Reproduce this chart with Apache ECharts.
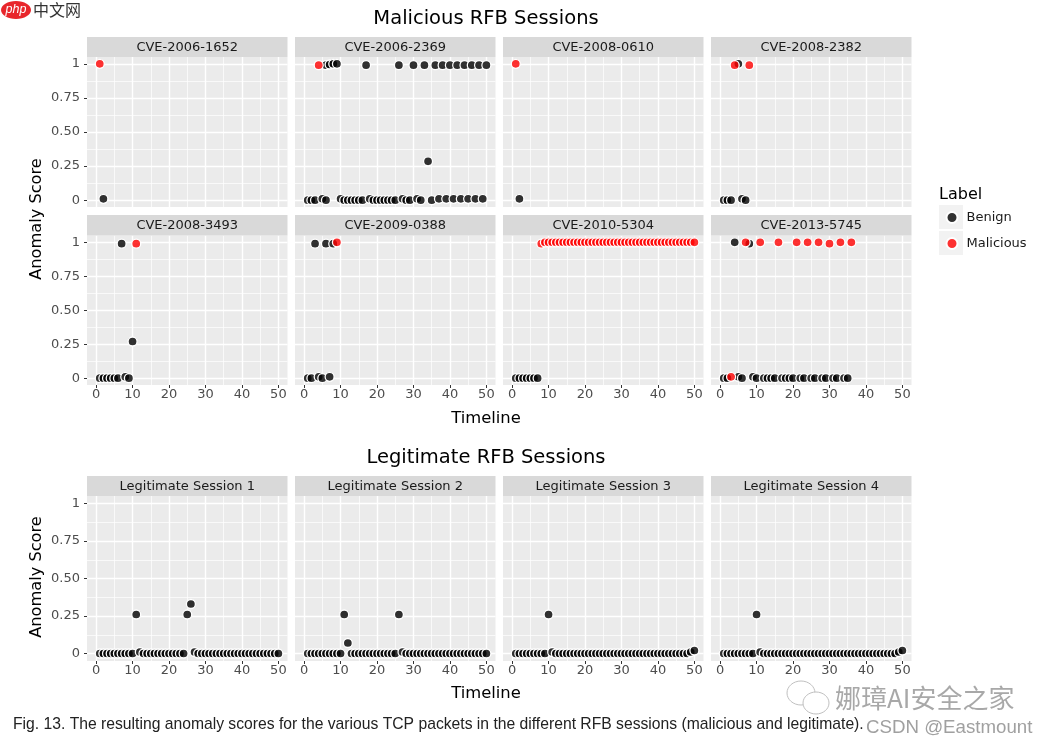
<!DOCTYPE html>
<html><head><meta charset="utf-8">
<style>html,body{margin:0;padding:0;background:#fff}#c{width:1047px;height:745px}</style>
<script src="https://cdn.jsdelivr.net/npm/echarts@6/dist/echarts.min.js"></script>
</head><body><div id="c"></div>
<script>
const panelNames = ['CVE-2006-1652','CVE-2006-2369','CVE-2008-0610','CVE-2008-2382',
  'CVE-2008-3493','CVE-2009-0388','CVE-2010-5304','CVE-2013-5745',
  'Legitimate Session 1','Legitimate Session 2','Legitimate Session 3','Legitimate Session 4'];
const xTicks = [0,10,20,30,40,50];
const xMinor = [5,15,25,35,45];
const yTicks = [0,0.25,0.5,0.75,1];
const yMinor = [0.125,0.375,0.625,0.875];
const yTickLabels = {0:'0',0.25:'0.25',0.5:'0.50',0.75:'0.75',1:'1'};

const benign = [
 [[2,.01]],
 [[1,0],[2,0],[3,0],[5,.01],[6,0],[6,.99],[7,.995],[8,1],[9,1],[10,.01],[11,0],[12,0],[13,0],[14,0],[15,0],[16,0],[17,.99],[18,.01],[19,0],[20,0],[21,0],[22,0],[23,0],[24,0],[25,0],[26,.99],[27,.01],[28,0],[29,0],[30,.99],[31,.01],[32,0],[33,.99],[34,.285],[35,0],[36,.99],[37,.01],[38,.99],[39,.01],[40,.99],[41,.01],[42,.99],[43,.01],[44,.99],[45,.01],[46,.99],[47,.01],[48,.99],[49,.01],[50,.99]],
 [[2,.01]],
 [[1,0],[2,0],[3,0],[5,1],[6,.01],[7,0]],
 [[1,0],[2,0],[3,0],[4,0],[5,0],[6,0],[7,.99],[8,.01],[9,0],[10,.27]],
 [[1,0],[2,0],[3,.99],[4,.01],[5,0],[6,.99],[7,.01],[8,.99]],
 [[1,0],[2,0],[3,0],[4,0],[5,0],[6,0],[7,0]],
 [[1,0],[2,0],[4,1],[5,.01],[6,0],[8,.99],[9,.01],[10,0],[12,0],[13,0],[14,0],[15,0],[17,0],[18,0],[19,0],[20,0],[22,0],[23,0],[25,0],[26,0],[28,0],[29,0],[31,0],[32,0],[34,0],[35,0]],
 [[1,0],[2,0],[3,0],[4,0],[5,0],[6,0],[7,0],[8,0],[9,0],[10,0],[11,.26],[12,.01],[13,0],[14,0],[15,0],[16,0],[17,0],[18,0],[19,0],[20,0],[21,0],[22,0],[23,0],[24,0],[25,.26],[26,.33],[27,.01],[28,0],[29,0],[30,0],[31,0],[32,0],[33,0],[34,0],[35,0],[36,0],[37,0],[38,0],[39,0],[40,0],[41,0],[42,0],[43,0],[44,0],[45,0],[46,0],[47,0],[48,0],[49,0],[50,0]],
 [[1,0],[2,0],[3,0],[4,0],[5,0],[6,0],[7,0],[8,0],[9,0],[10,0],[11,.26],[12,.07],[13,0],[14,0],[15,0],[16,0],[17,0],[18,0],[19,0],[20,0],[21,0],[22,0],[23,0],[24,0],[25,0],[26,.26],[27,.01],[28,0],[29,0],[30,0],[31,0],[32,0],[33,0],[34,0],[35,0],[36,0],[37,0],[38,0],[39,0],[40,0],[41,0],[42,0],[43,0],[44,0],[45,0],[46,0],[47,0],[48,0],[49,0],[50,0]],
 [[1,0],[2,0],[3,0],[4,0],[5,0],[6,0],[7,0],[8,0],[9,0],[10,.26],[11,.01],[12,0],[13,0],[14,0],[15,0],[16,0],[17,0],[18,0],[19,0],[20,0],[21,0],[22,0],[23,0],[24,0],[25,0],[26,0],[27,0],[28,0],[29,0],[30,0],[31,0],[32,0],[33,0],[34,0],[35,0],[36,0],[37,0],[38,0],[39,0],[40,0],[41,0],[42,0],[43,0],[44,0],[45,0],[46,0],[47,0],[48,0],[49,.01],[50,.02]],
 [[1,0],[2,0],[3,0],[4,0],[5,0],[6,0],[7,0],[8,0],[9,0],[10,.26],[11,.01],[12,0],[13,0],[14,0],[15,0],[16,0],[17,0],[18,0],[19,0],[20,0],[21,0],[22,0],[23,0],[24,0],[25,0],[26,0],[27,0],[28,0],[29,0],[30,0],[31,0],[32,0],[33,0],[34,0],[35,0],[36,0],[37,0],[38,0],[39,0],[40,0],[41,0],[42,0],[43,0],[44,0],[45,0],[46,0],[47,0],[48,0],[49,.01],[50,.02]]
];
const malicious = [
 [[1,1]],
 [[4,.99]],
 [[1,1]],
 [[4,.99],[8,.99]],
 [[11,.99]],
 [[9,1]],
 [[8,.99],[9,1],[10,1],[11,1],[12,1],[13,1],[14,1],[15,1],[16,1],[17,1],[18,1],[19,1],[20,1],[21,1],[22,1],[23,1],[24,1],[25,1],[26,1],[27,1],[28,1],[29,1],[30,1],[31,1],[32,1],[33,1],[34,1],[35,1],[36,1],[37,1],[38,1],[39,1],[40,1],[41,1],[42,1],[43,1],[44,1],[45,1],[46,1],[47,1],[48,1],[49,1],[50,1]],
 [[3,.01],[7,1],[11,1],[16,1],[21,1],[24,1],[27,1],[30,.99],[33,1],[36,1]],
 [],[],[],[]
];

const colX = [87,295,503,711], panelW = 200.5;
const rows = [{top:57,h:150,strip:37},{top:235.5,h:149.5,strip:215},{top:496,h:165,strip:476}];
const FONT = 'DejaVu Sans';
const BLACK = 'rgba(0,0,0,0.8)', RED = 'rgba(255,0,0,0.8)';

const grid=[],xAxis=[],yAxis=[],series=[],graphic=[];
function txt(x,y,text,size,fill,extra){
  graphic.push(Object.assign({type:'text',x,y,silent:true,z:5,
    style:Object.assign({text,fontFamily:FONT,fontSize:size,fill,align:'center',verticalAlign:'middle'},extra&&extra.style||{})},
    extra&&extra.el||{}));
}
panelNames.forEach((name,i)=>{
  const col=i%4, r=rows[Math.floor(i/4)], rowIdx=Math.floor(i/4);
  grid.push({left:colX[col],top:r.top,width:panelW,height:r.h,show:true,backgroundColor:'#ebebeb',borderWidth:0,containLabel:false});
  const showX=rowIdx>0, showY=col===0;
  const xa={gridIndex:i,type:'value',min:-2.5,max:52.5,axisLine:{show:false,onZero:false}};
  const ya={gridIndex:i,type:'value',min:-0.05,max:1.05,axisLine:{show:false,onZero:false}};
  xAxis.push(Object.assign({},xa,{
    axisTick:{show:showX,customValues:xTicks,length:3,lineStyle:{color:'#333',width:1}},
    axisLabel:{show:showX,customValues:xTicks,color:'#4d4d4d',fontFamily:FONT,fontSize:13,margin:3},
    splitLine:{show:true,lineStyle:{color:'#fff',width:1.4}}}));
  xAxis.push(Object.assign({},xa,{
    axisTick:{show:false,customValues:xMinor},axisLabel:{show:false,customValues:xMinor},
    splitLine:{show:true,lineStyle:{color:'#fff',width:0.7}}}));
  yAxis.push(Object.assign({},ya,{
    axisTick:{show:showY,customValues:yTicks,length:3,lineStyle:{color:'#333',width:1}},
    axisLabel:{show:showY,customValues:yTicks,color:'#4d4d4d',fontFamily:FONT,fontSize:13,margin:7,formatter:v=>yTickLabels[v]},
    splitLine:{show:true,lineStyle:{color:'#fff',width:1.4}}}));
  yAxis.push(Object.assign({},ya,{
    axisTick:{show:false,customValues:yMinor},axisLabel:{show:false,customValues:yMinor},
    splitLine:{show:true,lineStyle:{color:'#fff',width:0.7}}}));
  const common={type:'scatter',xAxisIndex:2*i,yAxisIndex:2*i,symbol:'circle',symbolSize:9,silent:true,clip:false,animation:false};
  series.push(Object.assign({},common,{name:'Benign',data:benign[i],z:3,itemStyle:{color:BLACK,borderColor:'#fff',borderWidth:1.3,opacity:1}}));
  series.push(Object.assign({},common,{name:'Malicious',data:malicious[i],z:4,itemStyle:{color:RED,borderColor:'#fff',borderWidth:1.3,opacity:1}}));
  graphic.push({type:'rect',shape:{x:colX[col],y:r.strip,width:panelW,height:r.top-r.strip},style:{fill:'#d9d9d9'},silent:true,z:1});
  txt(colX[col]+panelW/2,r.strip+(r.top-r.strip)/2+0.5,name,13,'#1a1a1a');
});
txt(486,18.5,'Malicious RFB Sessions',19.5,'#000');
txt(486,457.5,'Legitimate RFB Sessions',19.5,'#000');
txt(486,418.5,'Timeline',16.4,'#000');
txt(486,693.5,'Timeline',16.4,'#000');
txt(37,219,'Anomaly Score',16.2,'#000',{el:{rotation:Math.PI/2}});
txt(37,577,'Anomaly Score',16.2,'#000',{el:{rotation:Math.PI/2}});
txt(939,195,'Label',16,'#000',{style:{align:'left'}});
graphic.push({type:'rect',shape:{x:939,y:205,width:24,height:24},style:{fill:'#f2f2f2'},silent:true,z:0});
graphic.push({type:'rect',shape:{x:939,y:231,width:24,height:24},style:{fill:'#f2f2f2'},silent:true,z:0});
txt(13,724.5,'Fig. 13. The resulting anomaly scores for the various TCP packets in the different RFB sessions (malicious and legitimate).',15.7,'#222',{style:{align:'left',fontFamily:'Liberation Sans'}});
graphic.push({type:'ellipse',shape:{cx:16,cy:10,rx:15,ry:9},style:{fill:'#e8262b'},silent:true,z:5});
txt(16,9.5,'php',12.5,'#fff',{style:{fontStyle:'italic',fontFamily:'Liberation Sans'}});
txt(57,9.5,'中文网',16,'#333',{style:{fontFamily:'Noto Sans CJK SC'}});
graphic.push({type:'ellipse',shape:{cx:801,cy:693,rx:14,ry:12},style:{fill:'none',stroke:'#c0c0c0',lineWidth:1},silent:true,z:5});
graphic.push({type:'ellipse',shape:{cx:816,cy:703,rx:13,ry:11},style:{fill:'#fff',stroke:'#c0c0c0',lineWidth:1},silent:true,z:5});
txt(835,698.5,'娜璋AI安全之家',26,'#a8a8a8',{style:{align:'left',fontFamily:'Noto Sans CJK SC'}});
txt(866,728,'CSDN @Eastmount',18.7,'#a0a0a0',{style:{align:'left',fontFamily:'Liberation Sans'}});

const chart=echarts.init(document.getElementById('c'),null,{renderer:'canvas'});
chart.setOption({
  animation:false,backgroundColor:'#fff',
  grid,xAxis,yAxis,series,graphic:{elements:graphic},
  legend:{orient:'vertical',left:945.5,top:211,data:[{name:'Benign'},{name:'Malicious'}],icon:'circle',itemWidth:11,itemHeight:11,itemGap:13,selectedMode:false,
    textStyle:{fontFamily:FONT,fontSize:13,color:'#1a1a1a',padding:[0,0,0,4]},padding:0}
});
</script></body></html>
